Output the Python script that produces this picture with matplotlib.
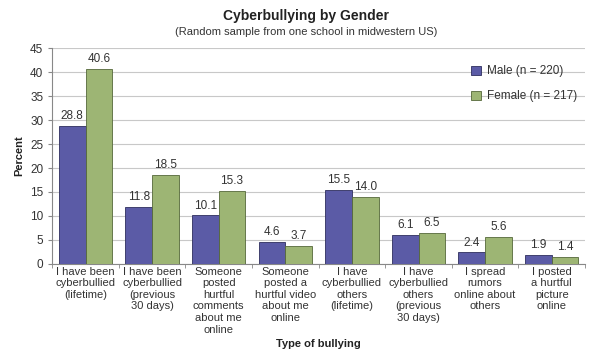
import matplotlib.pyplot as plt
import numpy as np

categories = ['I have been\ncyberbullied\n(lifetime)',
              'I have been\ncyberbullied\n(previous\n30 days)',
              'Someone\nposted\nhurtful\ncomments\nabout me\nonline',
              'Someone\nposted a\nhurtful video\nabout me\nonline',
              'I have\ncyberbullied\nothers\n(lifetime)',
              'I have\ncyberbullied\nothers\n(previous\n30 days)',
              'I spread\nrumors\nonline about\nothers',
              'I posted\na hurtful\npicture\nonline']
male = [28.8, 11.8, 10.1, 4.6, 15.5, 6.1, 2.4, 1.9]
female = [40.6, 18.5, 15.3, 3.7, 14.0, 6.5, 5.6, 1.4]

plt.rcParams['font.family'] = ['Liberation Sans', 'DejaVu Sans']

fig = plt.figure(figsize=(6, 3.62), dpi=100)
ax = fig.add_axes([0.087, 0.271, 0.888, 0.596])

x = np.arange(len(categories))
w = 0.4
b1 = ax.bar(x - w / 2, male, w, color='#5b5ba6', edgecolor='#2e2e5e', linewidth=0.6,
            label='Male (n = 220)', zorder=3)
b2 = ax.bar(x + w / 2, female, w, color='#9db574', edgecolor='#55683a', linewidth=0.6,
            label='Female (n = 217)', zorder=3)

for bars, vals in [(b1, male), (b2, female)]:
    for r, v in zip(bars, vals):
        ax.text(r.get_x() + r.get_width() / 2, v + 0.8, f'{v:.1f}',
                ha='center', va='bottom', fontsize=8.5, color='#333333')

ax.set_xlim(-0.5, len(categories) - 0.5)
ax.set_ylim(0, 45)
ax.set_yticks(range(0, 46, 5))
ax.yaxis.grid(True, color='#c8c8c8', linewidth=0.8, zorder=0)
ax.set_axisbelow(True)

ax.set_xticks(x)
ax.set_xticklabels(categories, fontsize=8, color='#333333', linespacing=1.2)
ax.tick_params(axis='x', length=0, pad=2)
ax.set_xticks(np.arange(-0.5, len(categories)), minor=True)
ax.tick_params(axis='x', which='minor', length=3, color='#888888')
ax.tick_params(axis='y', labelsize=8.5, colors='#333333', length=3)
ax.tick_params(axis='y', color='#888888')

for s in ['top', 'right']:
    ax.spines[s].set_visible(False)
ax.spines['left'].set_color('#888888')
ax.spines['bottom'].set_color('#888888')

ax.set_ylabel('Percent', fontsize=8, fontweight='bold', color='#222222')
ax.set_xlabel('Type of bullying', fontsize=8, fontweight='bold', color='#222222', labelpad=3)

fig.text(0.51, 0.955, 'Cyberbullying by Gender', ha='center', va='center',
         fontsize=10, fontweight='bold', color='#222222')
fig.text(0.51, 0.912, '(Random sample from one school in midwestern US)', ha='center',
         va='center', fontsize=8, color='#333333')

ax.legend(loc='upper right', bbox_to_anchor=(1.005, 0.97), frameon=False, fontsize=8.5,
          handlelength=0.8, handleheight=0.8, labelspacing=1.1, labelcolor='#333333',
          handletextpad=0.5)

fig.savefig('out.png', dpi=100)
